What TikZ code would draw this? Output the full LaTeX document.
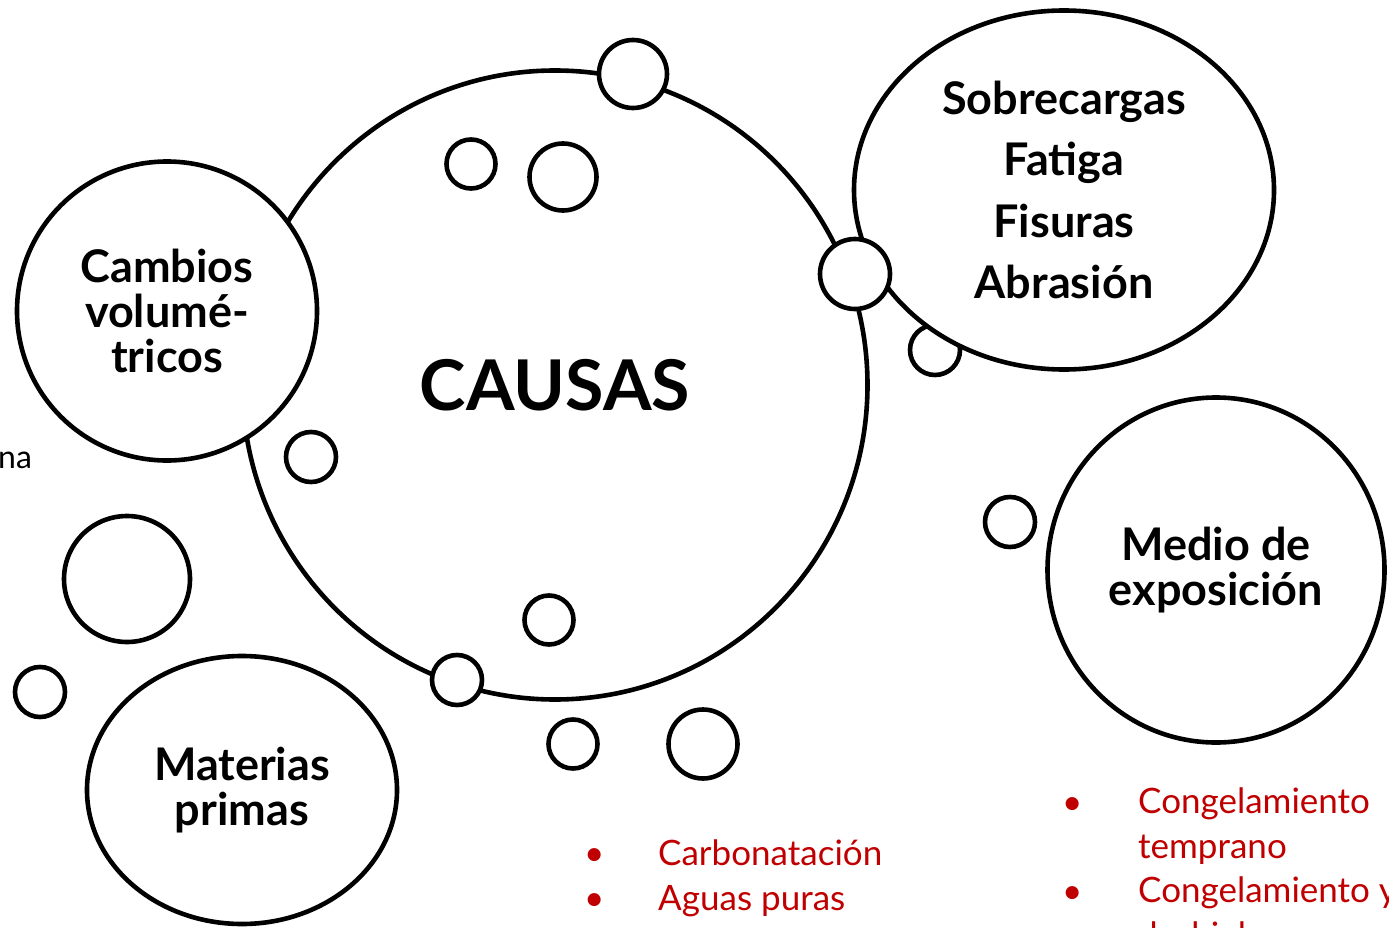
\documentclass[tikz,border=0pt]{standalone}
\usepackage{fontspec}
\setmainfont{Lato}
\usetikzlibrary{shapes.geometric}
\definecolor{causered}{RGB}{192,0,0}
\tikzset{
  bubble/.style={circle, draw, fill=white, line width=4.6pt, inner sep=0pt},
  cause/.style={ellipse, draw, fill=white, line width=4.6pt, inner sep=0pt, align=center,
    font=\bfseries\fontsize{45}{45}\selectfont},
  effect/.style={inner sep=0pt, text=causered, align=left,
    font=\fontsize{35}{44.5}\selectfont}
}
\begin{document}
\begin{tikzpicture}[x=1pt, y=-1pt]
\useasboundingbox (0,0) rectangle (1389,928);
% the middle one first, the rest sit on top of it
\node [cause, minimum width=625pt, minimum height=629pt,
  font=\bfseries\fontsize{70}{70}\selectfont] (causas) at (555,385) {CAUSAS};
\node [bubble, minimum size=50pt] (b5) at (935,350) {};
\node [cause, minimum width=420pt, minimum height=359pt,
  font=\bfseries\fontsize{45}{61.5}\selectfont] (sobre) at (1064,190)
  {Sobrecargas\\Fatiga\\Fisuras\\Abrasión};
\node [cause, minimum width=300pt, minimum height=299pt] (cambios) at (167,311)
  {Cambios\\volumé-\\tricos};
\node [cause, minimum width=337pt, minimum height=345pt] (medio) at (1216,570)
  {Medio de\\exposición};
\node [cause, minimum width=310pt, minimum height=268pt] (materias) at (242,790)
  {Materias\\primas};
% little bubbles
\node [bubble, minimum size=68pt] (b1) at (633,74) {};
\node [bubble, minimum size=49pt] (b2) at (471,164) {};
\node [bubble, minimum size=67pt] (b3) at (563,177) {};
\node [bubble, minimum size=70pt] (b4) at (855,274) {};
\node [bubble, minimum size=50pt] (b6) at (311,457) {};
\node [bubble, minimum size=126pt] (b7) at (127,579) {};
\node [bubble, minimum size=50pt] (b8) at (40,692) {};
\node [bubble, minimum size=49pt] (b9) at (549,620) {};
\node [bubble, minimum size=50pt] (b10) at (457,680) {};
\node [bubble, minimum size=49pt] (b11) at (573,744) {};
\node [bubble, minimum size=69pt] (b12) at (703,744) {};
\node [bubble, minimum size=50pt] (b13) at (1010,522) {};
% red lists (base = last line)
\node [effect, anchor=base west] (carb) at (658,910) {Carbonatación\\Aguas puras};
\node [effect, anchor=base west] (carbdot) at (584,910) {•\\•};
\node [effect, anchor=base west] (cong) at (1138,947) {Congelamiento\\temprano\\Congelamiento y\\deshielo};
\node [effect, anchor=base west] (congdot) at (1062,903) {•\\\mbox{}\\•};
\node [anchor=base west, inner sep=0pt, font=\fontsize{32}{36}\selectfont] (na) at (-2,468) {na};
\end{tikzpicture}
\end{document}
